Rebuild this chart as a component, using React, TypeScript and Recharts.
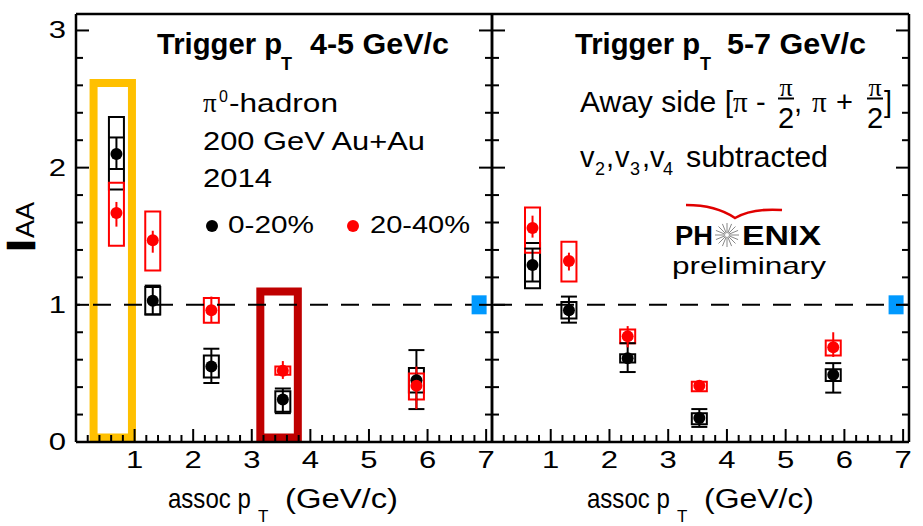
import React from 'react';
import {
  ComposedChart,
  Scatter,
  XAxis,
  YAxis,
  ErrorBar,
  ReferenceArea,
  ReferenceLine,
} from 'recharts';

const FONT = '"Liberation Sans", Arial, Helvetica, sans-serif';
const SERIF = '"Liberation Serif", "Times New Roman", serif';

// ---------- axes ----------
const X_DOMAIN: [number, number] = [0, 7.1];
const Y_DOMAIN: [number, number] = [0, 3.12];
const X_TICKS = [0, 0.2, 0.4, 0.6, 0.8, 1, 1.2, 1.4, 1.6, 1.8, 2, 2.2, 2.4, 2.6, 2.8, 3, 3.2, 3.4, 3.6, 3.8, 4, 4.2, 4.4, 4.6, 4.8, 5, 5.2, 5.4, 5.6, 5.8, 6, 6.2, 6.4, 6.6, 6.8, 7];
const Y_TICKS = [0, 0.2, 0.4, 0.6, 0.8, 1, 1.2, 1.4, 1.6, 1.8, 2, 2.2, 2.4, 2.6, 2.8, 3];
const X_LABELS = [1, 2, 3, 4, 5, 6, 7];
const Y_LABELS = [0, 1, 2, 3];

// ---------- data ----------
const ASSOC_PT = [0.69, 1.31, 2.31, 3.53, 5.81];

// Trigger pT 4-5 GeV/c
const T45_C020_Y = [2.10, 1.03, 0.55, 0.31, 0.45];
const T45_C020_STAT = [[1.99, 2.22], [0.93, 1.14], [0.43, 0.68], [0.21, 0.39], [0.24, 0.67]];
const T45_C020_SYS = [[1.84, 2.37], [0.93, 1.13], [0.47, 0.63], [0.22, 0.37], [0.36, 0.54]];
const T45_C2040_Y = [1.67, 1.47, 0.96, 0.52, 0.41];
const T45_C2040_STAT = [[1.57, 1.75], [1.38, 1.54], [0.87, 1.06], [0.46, 0.59], [0.24, 0.55]];
const T45_C2040_SYS = [[1.43, 1.89], [1.25, 1.68], [0.87, 1.05], [0.49, 0.55], [0.31, 0.50]];

// Trigger pT 5-7 GeV/c
const T57_C020_Y = [1.29, 0.96, 0.61, 0.175, 0.49];
const T57_C020_STAT = [[1.17, 1.41], [0.87, 1.06], [0.51, 0.72], [0.11, 0.24], [0.36, 0.575]];
const T57_C020_SYS = [[1.12, 1.45], [0.90, 1.02], [0.58, 0.64], [0.13, 0.21], [0.445, 0.53]];
const T57_C2040_Y = [1.56, 1.32, 0.77, 0.41, 0.69];
const T57_C2040_STAT = [[1.49, 1.65], [1.25, 1.38], [0.69, 0.845], [0.39, 0.43], [0.62, 0.80]];
const T57_C2040_SYS = [[1.38, 1.71], [1.17, 1.46], [0.72, 0.82], [0.37, 0.44], [0.63, 0.74]];

// normalisation uncertainty marker
const NORM_X = [6.88];
const NORM_Y = [1];

// highlight boxes (left panel) [x1, x2, y1, y2]
const HIGHLIGHT_YELLOW = [0.30, 0.955, 0.033, 2.617];
const HIGHLIGHT_DARKRED = [3.146, 3.786, 0.033, 1.098];

const BOX_HALF = 0.128;
const BLACK = '#000000';
const RED = '#FF0000';

const buildPoints = (ys: number[], stat: number[][]) =>
  ASSOC_PT.map((x, i) => ({ x, y: ys[i], err: [ys[i] - stat[i][0], stat[i][1] - ys[i]] }));
const buildBoxes = (sys: number[][]) => ASSOC_PT.map((x, i) => ({ x, lo: sys[i][0], hi: sys[i][1] }));
const normPoints = NORM_X.map((x, i) => ({ x, y: NORM_Y[i] }));

const isMajor = (v: number) => Math.abs(v - Math.round(v)) < 1e-6;
const tickLen = (v: number) => (isMajor(v) ? 13 : 7);

const bottomTick = (labels: boolean) => (p: any) => {
  const v = p.payload.value;
  return (
    <g>
      <line x1={p.x} x2={p.x} y1={p.y} y2={p.y - tickLen(v)} stroke="#000" strokeWidth={2} />
      {labels && X_LABELS.includes(v) && (
        <text transform={`translate(${p.x},${p.y + 26}) scale(1.35,1)`} textAnchor="middle" fontSize={23} fontFamily={FONT} fill="#000">
          {v}
        </text>
      )}
    </g>
  );
};
const topTick = (p: any) => {
  const v = p.payload.value;
  return <line x1={p.x} x2={p.x} y1={p.y} y2={p.y + tickLen(v)} stroke="#000" strokeWidth={2} />;
};
const leftTick = (labels: boolean) => (p: any) => {
  const v = p.payload.value;
  return (
    <g>
      <line x1={p.x} x2={p.x + tickLen(v)} y1={p.y} y2={p.y} stroke="#000" strokeWidth={2} />
      {labels && Y_LABELS.includes(v) && (
        <text transform={`translate(${p.x - 10},${p.y + 8}) scale(1.35,1)`} textAnchor="end" fontSize={23} fontFamily={FONT} fill="#000">
          {v}
        </text>
      )}
    </g>
  );
};
const rightTick = (p: any) => {
  const v = p.payload.value;
  return <line x1={p.x} x2={p.x - tickLen(v)} y1={p.y} y2={p.y} stroke="#000" strokeWidth={2} />;
};

const dot = (color: string) => (p: any) => <circle cx={p.cx} cy={p.cy} r={6} fill={color} />;
const normShape = (p: any) => <rect x={p.cx - 7.5} y={p.cy - 9.5} width={15} height={19} fill="#0099FF" />;

type PanelProps = {
  plotLeft: number;
  plotRight: number;
  yLabels: boolean;
  black: any[];
  red: any[];
  blackSys: any[];
  redSys: any[];
  highlights: boolean;
  dashOffset: number;
};

function Panel(props: PanelProps) {
  const { plotLeft, plotRight, yLabels, black, red, blackSys, redSys, highlights, dashOffset } = props;
  const leftW = yLabels ? 40 : 1;
  const margin = { top: 13, bottom: 54, left: plotLeft - leftW, right: 923 - plotRight - 1 };
  const axisLine = { stroke: '#000', strokeWidth: 2.5 };
  return (
    <div style={{ position: 'absolute', left: 0, top: 0 }}>
      <ComposedChart width={923} height={526} margin={margin}>
        <XAxis
          dataKey="x"
          type="number"
          domain={X_DOMAIN}
          ticks={X_TICKS}
          interval={0}
          allowDataOverflow
          height={30}
          tickSize={0}
          tickMargin={0}
          tickLine={false}
          axisLine={axisLine}
          tick={bottomTick(true)}
        />
        <XAxis
          xAxisId="top"
          orientation="top"
          type="number"
          domain={X_DOMAIN}
          ticks={X_TICKS}
          interval={0}
          allowDataOverflow
          height={1}
          tickSize={0}
          tickMargin={0}
          tickLine={false}
          axisLine={axisLine}
          tick={topTick}
        />
        <YAxis
          dataKey="y"
          type="number"
          domain={Y_DOMAIN}
          ticks={Y_TICKS}
          interval={0}
          allowDataOverflow
          width={leftW}
          tickSize={0}
          tickMargin={0}
          tickLine={false}
          axisLine={axisLine}
          tick={leftTick(yLabels)}
        />
        <YAxis
          yAxisId="right"
          orientation="right"
          type="number"
          domain={Y_DOMAIN}
          ticks={Y_TICKS}
          interval={0}
          allowDataOverflow
          width={1}
          tickSize={0}
          tickMargin={0}
          tickLine={false}
          axisLine={axisLine}
          tick={rightTick}
        />
        <ReferenceLine y={1} stroke="#000" strokeWidth={2} strokeDasharray="18 13" strokeDashoffset={dashOffset} />
        {highlights && (
          <ReferenceArea
            x1={HIGHLIGHT_YELLOW[0]}
            x2={HIGHLIGHT_YELLOW[1]}
            y1={HIGHLIGHT_YELLOW[2]}
            y2={HIGHLIGHT_YELLOW[3]}
            fill="none"
            fillOpacity={0}
            stroke="#FFC000"
            strokeWidth={8}
            ifOverflow="visible"
          />
        )}
        {highlights && (
          <ReferenceArea
            x1={HIGHLIGHT_DARKRED[0]}
            x2={HIGHLIGHT_DARKRED[1]}
            y1={HIGHLIGHT_DARKRED[2]}
            y2={HIGHLIGHT_DARKRED[3]}
            fill="none"
            fillOpacity={0}
            stroke="#BF0000"
            strokeWidth={8}
            ifOverflow="visible"
          />
        )}
        {blackSys.map((b, i) => (
          <ReferenceArea
            key={'bs' + i}
            x1={b.x - BOX_HALF}
            x2={b.x + BOX_HALF}
            y1={b.lo}
            y2={b.hi}
            fill="none"
            fillOpacity={0}
            stroke={BLACK}
            strokeWidth={2}
            ifOverflow="visible"
          />
        ))}
        {redSys.map((b, i) => (
          <ReferenceArea
            key={'rs' + i}
            x1={b.x - BOX_HALF}
            x2={b.x + BOX_HALF}
            y1={b.lo}
            y2={b.hi}
            fill="none"
            fillOpacity={0}
            stroke={RED}
            strokeWidth={2}
            ifOverflow="visible"
          />
        ))}
        <Scatter data={normPoints} dataKey="y" shape={normShape} isAnimationActive={false} />
        <Scatter data={black} dataKey="y" shape={dot(BLACK)} isAnimationActive={false}>
          <ErrorBar dataKey="err" direction="y" width={8} stroke={BLACK} strokeWidth={2} />
        </Scatter>
        <Scatter data={red} dataKey="y" shape={dot(RED)} isAnimationActive={false}>
          <ErrorBar dataKey="err" direction="y" width={0} stroke={RED} strokeWidth={2} />
        </Scatter>
      </ComposedChart>
    </div>
  );
}

type TxtProps = {
  x: number;
  y: number;
  size: number;
  w?: number;
  bold?: boolean;
  serif?: boolean;
  anchor?: 'start' | 'middle' | 'end';
  fill?: string;
  children: React.ReactNode;
};
const Txt = ({ x, y, size, w, bold, serif, anchor, fill, children }: TxtProps) => (
  <text
    x={x}
    y={y}
    fontSize={size}
    fontWeight={bold ? 'bold' : 'normal'}
    fontFamily={serif ? SERIF : FONT}
    textAnchor={anchor || 'start'}
    fill={fill || '#000'}
    {...(w ? { textLength: w, lengthAdjust: 'spacingAndGlyphs' } : {})}
  >
    {children}
  </text>
);

const Fraction = ({ cx }: { cx: number }) => (
  <g>
    <Txt x={cx} y={96} size={26} serif anchor="middle">π</Txt>
    <line x1={cx - 8} x2={cx + 8} y1={98.5} y2={98.5} stroke="#000" strokeWidth={2} />
    <Txt x={cx} y={128} size={29} anchor="middle">2</Txt>
  </g>
);

const Star = ({ cx, cy }: { cx: number; cy: number }) => (
  <g>
    {Array.from({ length: 16 }).map((_, k) => {
      const a = (k * Math.PI) / 8;
      return (
        <line
          key={k}
          x1={cx + 2 * Math.cos(a)}
          y1={cy + 2 * Math.sin(a)}
          x2={cx + 12 * Math.cos(a)}
          y2={cy + 12 * Math.sin(a)}
          stroke="#888"
          strokeWidth={1}
        />
      );
    })}
  </g>
);

function Overlay() {
  return (
    <svg width={923} height={526} style={{ position: 'absolute', left: 0, top: 0, pointerEvents: 'none' }}>
      {/* y axis label */}
      <g transform="translate(34,252) rotate(-90)">
        <text x={0} y={0} fontSize={37} fontFamily={FONT} stroke="#000" strokeWidth={2.5} textLength={13} lengthAdjust="spacingAndGlyphs">I</text>
        <text x={14} y={0} fontSize={26} fontFamily={FONT} textLength={36} lengthAdjust="spacingAndGlyphs">AA</text>
      </g>

      {/* left panel */}
      <Txt x={157} y={54} size={29} bold w={125}>Trigger p</Txt>
      <Txt x={281} y={70} size={18} bold>T</Txt>
      <Txt x={310} y={54} size={29} bold w={139}>4-5 GeV/c</Txt>

      <Txt x={203} y={112} size={27} serif>π</Txt>
      <Txt x={219} y={102} size={16}>0</Txt>
      <Txt x={229} y={112} size={26} w={109}>-hadron</Txt>
      <Txt x={203} y={150} size={26} w={222}>200 GeV Au+Au</Txt>
      <Txt x={203} y={187} size={26} w={69}>2014</Txt>

      <circle cx={212} cy={226} r={6} fill={BLACK} />
      <Txt x={228} y={233} size={24} w={86}>0-20%</Txt>
      <circle cx={353} cy={226} r={6} fill={RED} />
      <Txt x={370} y={233} size={24} w={100}>20-40%</Txt>

      {/* right panel */}
      <Txt x={575} y={54} size={29} bold w={125}>Trigger p</Txt>
      <Txt x={700} y={70} size={18} bold>T</Txt>
      <Txt x={727} y={54} size={29} bold w={139}>5-7 GeV/c</Txt>

      <Txt x={580} y={112} size={29} w={153}>Away side [</Txt>
      <Txt x={733} y={112} size={29} serif>π</Txt>
      <Txt x={756} y={112} size={29}>-</Txt>
      <Fraction cx={786} />
      <Txt x={794} y={112} size={29}>,</Txt>
      <Txt x={812} y={112} size={29} serif>π</Txt>
      <Txt x={836} y={112} size={29}>+</Txt>
      <Fraction cx={875} />
      <Txt x={884} y={112} size={29}>]</Txt>

      <Txt x={580} y={167} size={29}>v</Txt>
      <Txt x={595} y={175} size={18}>2</Txt>
      <Txt x={606} y={167} size={29}>,</Txt>
      <Txt x={615} y={167} size={29}>v</Txt>
      <Txt x={630} y={175} size={18}>3</Txt>
      <Txt x={642} y={167} size={29}>,</Txt>
      <Txt x={650} y={167} size={29}>v</Txt>
      <Txt x={663} y={175} size={18}>4</Txt>
      <Txt x={686} y={167} size={29} w={142}>subtracted</Txt>

      {/* PHENIX logo */}
      <path d="M686,205 Q716,205 735,218 Q752,208 782,210" fill="none" stroke="#E00000" strokeWidth={2.5} />
      <Txt x={675} y={245} size={27} bold w={38}>PH</Txt>
      <Star cx={727} cy={235} />
      <Txt x={742} y={245} size={27} bold w={79}>ENIX</Txt>
      <Txt x={672} y={274} size={24} w={154}>preliminary</Txt>

      {/* x axis titles */}
      <text transform="translate(168,508) scale(0.89,1)" fontSize={27} fontFamily={FONT} fill="#000">assoc p</text>
      <Txt x={258} y={522} size={17}>T</Txt>
      <Txt x={285} y={508} size={27} w={113}>(GeV/c)</Txt>

      <text transform="translate(587,508) scale(0.89,1)" fontSize={27} fontFamily={FONT} fill="#000">assoc p</text>
      <Txt x={677} y={522} size={17}>T</Txt>
      <Txt x={704} y={508} size={27} w={110}>(GeV/c)</Txt>
    </svg>
  );
}

export default function App() {
  const t45Black = buildPoints(T45_C020_Y, T45_C020_STAT);
  const t45Red = buildPoints(T45_C2040_Y, T45_C2040_STAT);
  const t57Black = buildPoints(T57_C020_Y, T57_C020_STAT);
  const t57Red = buildPoints(T57_C2040_Y, T57_C2040_STAT);
  return (
    <div style={{ position: 'absolute', left: 0, top: 0, width: 923, height: 526, background: '#fff', overflow: 'hidden' }}>
      <Panel
        plotLeft={76}
        plotRight={492}
        yLabels
        black={t45Black}
        red={t45Red}
        blackSys={buildBoxes(T45_C020_SYS)}
        redSys={buildBoxes(T45_C2040_SYS)}
        highlights
        dashOffset={14}
      />
      <Panel
        plotLeft={492}
        plotRight={909}
        yLabels={false}
        black={t57Black}
        red={t57Red}
        blackSys={buildBoxes(T57_C020_SYS)}
        redSys={buildBoxes(T57_C2040_SYS)}
        highlights={false}
        dashOffset={29}
      />
      <Overlay />
    </div>
  );
}
